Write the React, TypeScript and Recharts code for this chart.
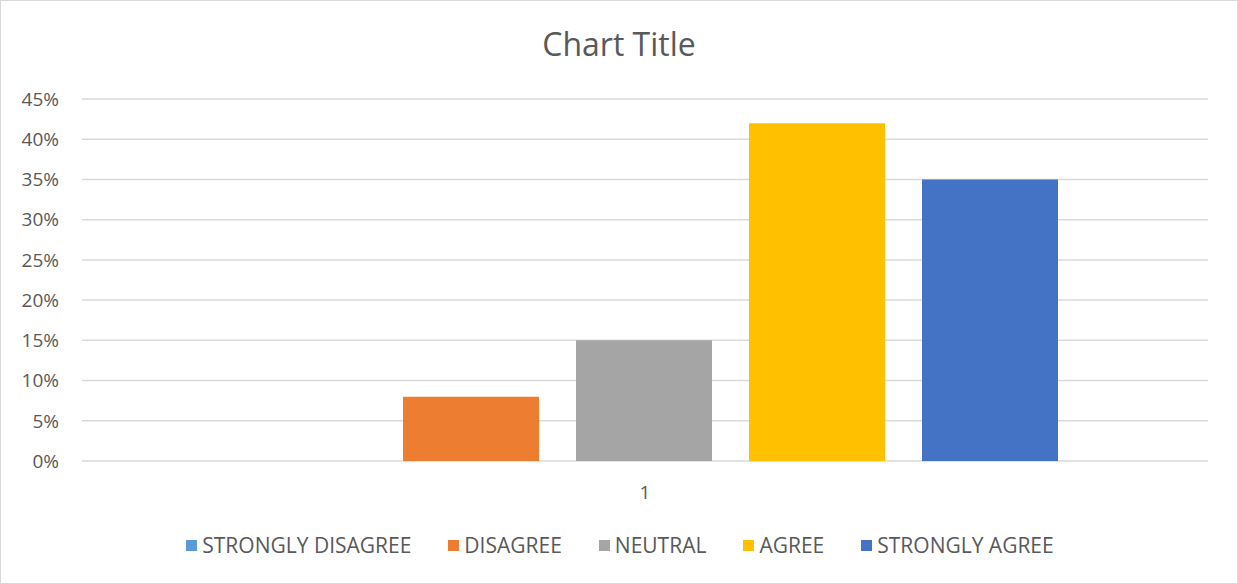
import React from 'react';
import { BarChart, Bar, XAxis, YAxis, CartesianGrid, Legend } from 'recharts';

const categories = ['1'];
const seriesNames = ['STRONGLY DISAGREE', 'DISAGREE', 'NEUTRAL', 'AGREE', 'STRONGLY AGREE'];
const seriesValues = [0, 0.08, 0.15, 0.42, 0.35];
const seriesColors = ['#5b9bd5', '#ed7d31', '#a5a5a5', '#ffc000', '#4472c4'];
const yTicks = [0, 0.05, 0.1, 0.15, 0.2, 0.25, 0.3, 0.35, 0.4, 0.45];

const data = categories.map((cat) => {
  const row: Record<string, string | number> = { cat };
  seriesNames.forEach((name, i) => {
    row[name] = seriesValues[i];
  });
  return row;
});

const FONT = '"Open Sans", "Noto Sans", sans-serif';
const TEXT = '#595959';

const LegendRow = () => (
  <div
    style={{
      display: 'flex',
      justifyContent: 'center',
      gap: 37,
      marginTop: -2,
      paddingLeft: 31,
      fontFamily: FONT,
      fontSize: 21,
      lineHeight: '24px',
      color: TEXT,
    }}
  >
    {seriesNames.map((name, i) => (
      <div key={name} style={{ display: 'flex', alignItems: 'center' }}>
        <span style={{ width: 11, height: 11, background: seriesColors[i], marginRight: 5, display: 'inline-block' }} />
        <span>{name}</span>
      </div>
    ))}
  </div>
);

if (typeof document !== 'undefined') document.body.style.margin = '0';

export default function App() {
  return (
    <div
      style={{
        position: 'relative',
        width: 1238,
        height: 584,
        boxSizing: 'border-box',
        border: '1px solid #d9d9d9',
        background: '#fff',
      }}
    >
      <div
        style={{
          position: 'absolute',
          top: 27,
          left: 0,
          width: '100%',
          textAlign: 'center',
          fontFamily: FONT,
          fontSize: 32,
          lineHeight: 1,
          color: TEXT,
        }}
      >
        Chart Title
      </div>
      <BarChart
        width={1236}
        height={582}
        data={data}
        margin={{ top: 98, right: 29, bottom: 0, left: 0 }}
        barCategoryGap={148}
        barGap={37}
        style={{ position: 'absolute', top: 0, left: 0 }}
      >
        <CartesianGrid vertical={false} stroke="#d9d9d9" strokeWidth={1.5} />
        <XAxis
          dataKey="cat"
          axisLine={false}
          tickLine={false}
          tickMargin={19}
          height={74}
          tick={{ fill: TEXT, fontSize: 19, fontFamily: FONT }}
        />
        <YAxis
          width={81}
          domain={[0, 0.45]}
          ticks={yTicks}
          interval={0}
          axisLine={false}
          tickLine={false}
          tickMargin={17}
          tickFormatter={(v: number) => `${Math.round(v * 100)}%`}
          tick={{ fill: TEXT, fontSize: 19, fontFamily: FONT }}
        />
        <Legend verticalAlign="bottom" height={48} content={<LegendRow />} />
        {seriesNames.map((name, i) => (
          <Bar key={name} dataKey={name} fill={seriesColors[i]} isAnimationActive={false} />
        ))}
      </BarChart>
    </div>
  );
}
